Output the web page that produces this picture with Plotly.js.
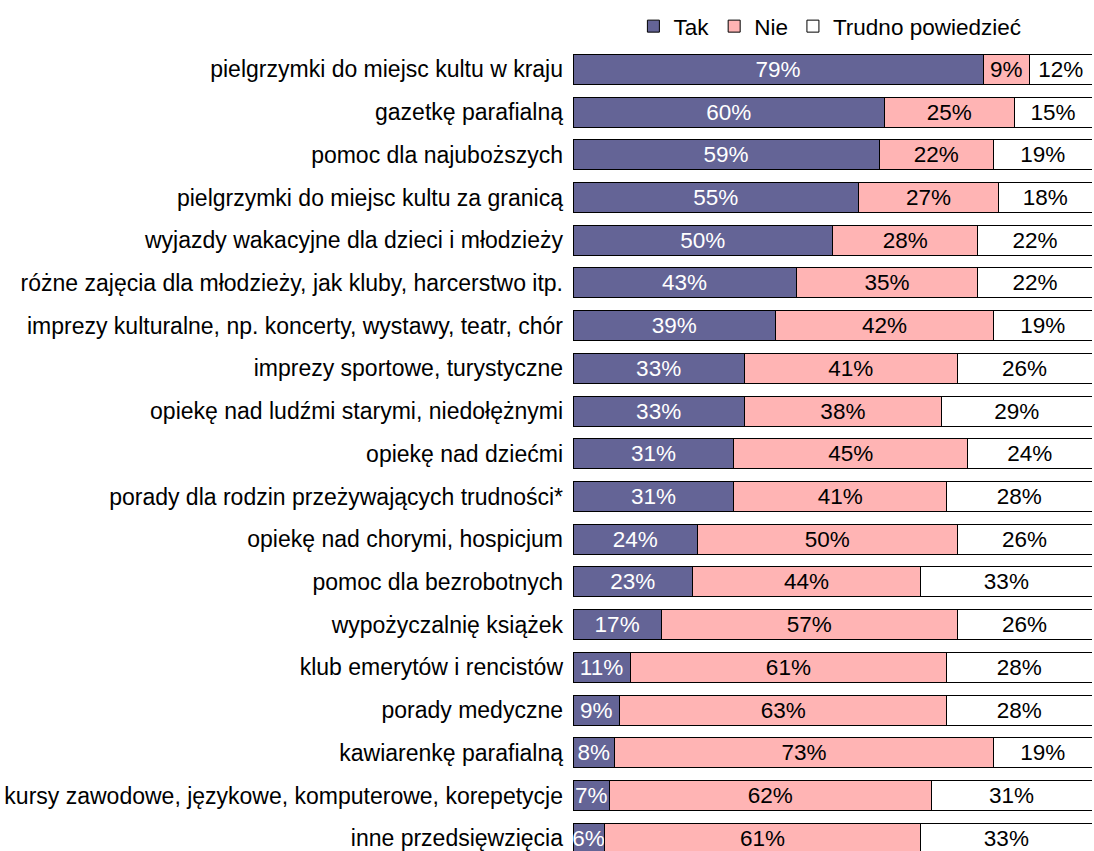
<!DOCTYPE html>
<html><head><meta charset="utf-8">
<script src="https://cdn.plot.ly/plotly-3.0.1.min.js"></script>
<style>body{margin:0;padding:0;background:#fff}#chart{width:1094px;height:851px}</style>
</head><body><div id="chart"></div>
<script>
const categories = [
  "pielgrzymki do miejsc kultu w kraju",
  "gazetkę parafialną",
  "pomoc dla najuboższych",
  "pielgrzymki do miejsc kultu za granicą",
  "wyjazdy wakacyjne dla dzieci i młodzieży",
  "różne zajęcia dla młodzieży, jak kluby, harcerstwo itp.",
  "imprezy kulturalne, np. koncerty, wystawy, teatr, chór",
  "imprezy sportowe, turystyczne",
  "opiekę nad ludźmi starymi, niedołężnymi",
  "opiekę nad dziećmi",
  "porady dla rodzin przeżywających trudności*",
  "opiekę nad chorymi, hospicjum",
  "pomoc dla bezrobotnych",
  "wypożyczalnię książek",
  "klub emerytów i rencistów",
  "porady medyczne",
  "kawiarenkę parafialną",
  "kursy zawodowe, językowe, komputerowe, korepetycje",
  "inne przedsięwzięcia"
];
const tak = [79,60,59,55,50,43,39,33,33,31,31,24,23,17,11,9,8,7,6];
const nie = [9,25,22,27,28,35,42,41,38,45,41,50,44,57,61,63,73,62,61];
const trudno = [12,15,19,18,22,22,19,26,29,24,28,26,33,26,28,28,19,31,33];
const seriesNames = ["Tak","Nie","Trudno powiedzieć"];

const font = "Liberation Sans, Arial, sans-serif";
const fs = 22.5;
function mk(vals, name, color, tcolor){
  return {
    type:'bar', orientation:'h', name:name,
    y:categories, x:vals,
    text: vals.map(v=>v+'%'), textposition:'inside', insidetextanchor:'middle',
    constraintext:'none', textangle:0,
    textfont:{family:font,size:fs,color:tcolor},
    marker:{color:color, line:{color:'#000',width:1}},
    hoverinfo:'skip'
  };
}
const data = [
  mk(tak, seriesNames[0], '#646496', '#ffffff'),
  mk(nie, seriesNames[1], '#ffb4b4', '#000000'),
  mk(trudno, seriesNames[2], '#ffffff', '#000000')
];
const layout = {
  width:1094, height:851,
  margin:{l:573, r:2, t:48, b:0},
  barmode:'stack', bargap:0.3,
  paper_bgcolor:'#fff', plot_bgcolor:'#fff',
  font:{family:font, size:fs, color:'#000'},
  xaxis:{range:[0,100], visible:false, fixedrange:true},
  yaxis:{type:'category', range:[18.3,-0.5], showgrid:false, zeroline:false, showline:false,
         ticks:'', ticklabelstandoff:9, tickfont:{family:font,size:23,color:'#000'}},
  showlegend:true,
  legend:{orientation:'h', x:0.495, xanchor:'center', y:1.0, yanchor:'bottom',
          font:{family:font,size:fs,color:'#000'}, itemwidth:30, traceorder:'normal',
          tracegroupgap:0, itemclick:false}
};
Plotly.newPlot('chart', data, layout, {staticPlot:true, displayModeBar:false});
</script></body></html>
